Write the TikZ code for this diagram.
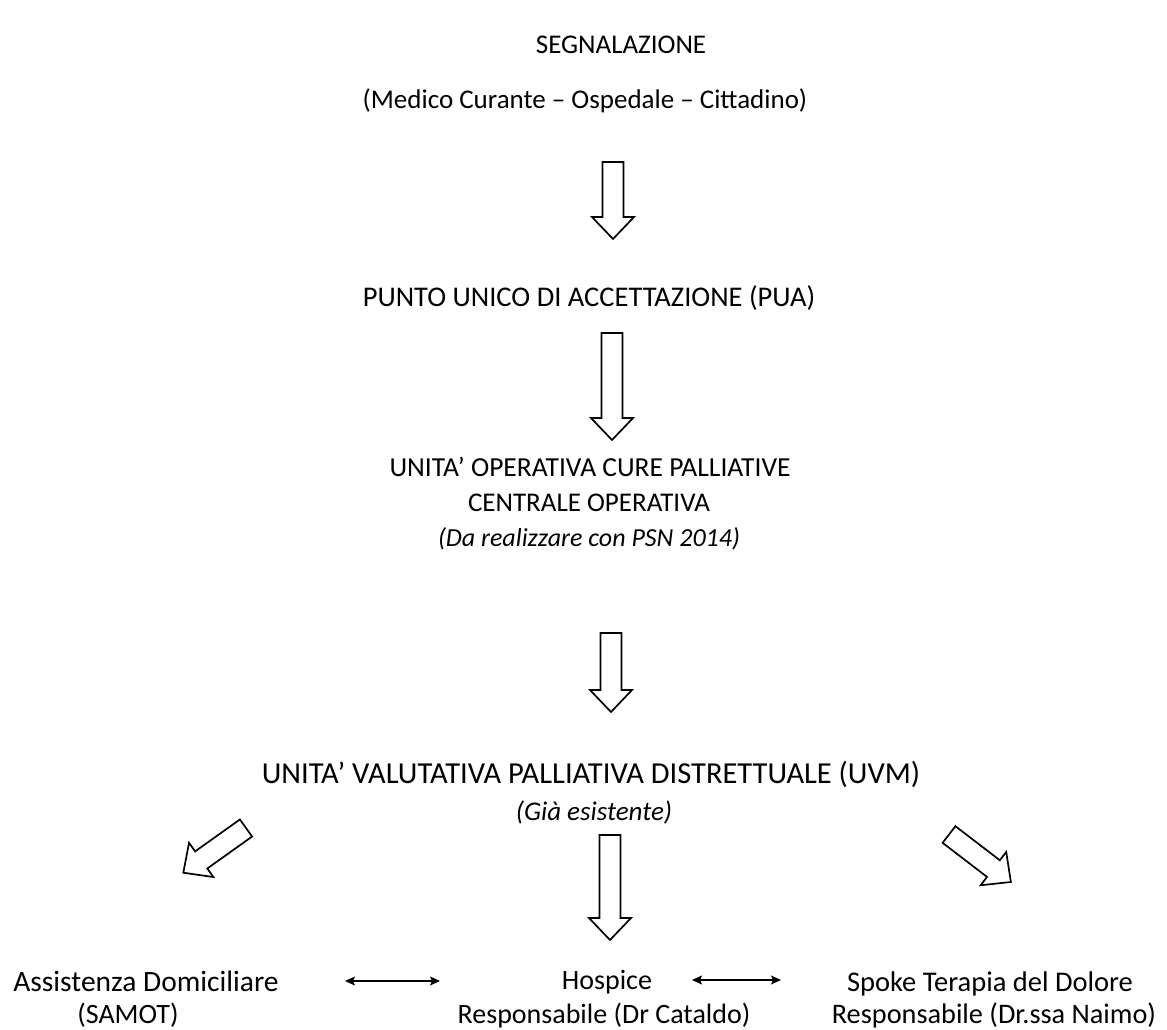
\documentclass[tikz,border=0pt]{standalone}
\usepackage{fontspec}
\setmainfont{Carlito}
\usetikzlibrary{arrows.meta}
\tikzset{
  lbl/.style={inner sep=0pt, text height=17.5pt, text depth=0pt, anchor=center, font=\fontsize{27}{32}\selectfont},
  lbli/.style={lbl, font=\fontsize{27}{32}\selectfont\itshape},
  fs/.style={font=\fontsize{#1}{32}\selectfont},
  blk/.style={draw=black, line width=1.7pt, line join=miter, fill=white},
  dbl/.style={line width=1.2pt, {Stealth[length=10pt,width=9pt,inset=2pt]}-{Stealth[length=10pt,width=9pt,inset=2pt]}}
}
% #1 tail coordinate, #2 canvas angle, #3 length
\newcommand\blockarr[3]{%
  \draw[blk, shift={(#1)}, rotate=#2] (0,-10.5) -- ({#3-22},-10.5) -- ({#3-22},-21) -- (#3,0) -- ({#3-22},21) -- ({#3-22},10.5) -- (0,10.5) -- cycle;}
\begin{document}
\begin{tikzpicture}[x=1pt,y=-1pt]
\useasboundingbox[fill=white] (0,0) rectangle (1167,1030);

\node[lbl] (seg) at (621,45) {SEGNALAZIONE};
\node[lbl] (med) at (585,100) {(Medico Curante – Ospedale – Cittadino)};
\node[lbl, fs=28.5] (pua) at (589,298) {PUNTO UNICO DI ACCETTAZIONE (PUA)};
\node[lbl, fs=27.5] (uop1) at (590,468) {UNITA’ OPERATIVA CURE PALLIATIVE};
\node[lbl] (uop2) at (589,503) {CENTRALE OPERATIVA};
\node[lbli, font=\fontsize{26}{32}\selectfont\itshape] (uop3) at (589,538) {(Da realizzare con PSN 2014)};
\node[lbl, fs=30.5] (uvm) at (591,775) {UNITA’ VALUTATIVA PALLIATIVA DISTRETTUALE (UVM)};
\node[lbli] (gia) at (594,812) {(Già esistente)};

\node[lbl, fs=29.5] (ad1) at (146,983) {Assistenza Domiciliare};
\node[lbl, fs=28] (ad2) at (128,1015) {(SAMOT)};
\node[lbl, fs=28] (ho1) at (607,981) {Hospice};
\node[lbl, fs=28] (ho2) at (604,1015) {Responsabile (Dr Cataldo)};
\node[lbl, fs=28.5] (sp1) at (990,983) {Spoke Terapia del Dolore};
\node[lbl, fs=28.3] (sp2) at (994,1015) {Responsabile (Dr.ssa Naimo)};

% block arrows (tails)
\coordinate (a1) at (613,162);
\coordinate (a2) at (612,333);
\coordinate (a3) at (611,633);
\coordinate (a4) at (610,835);
\coordinate (a5) at (246,828);
\coordinate (a6) at (949,834.5);
\blockarr{a1}{-90}{77}
\blockarr{a2}{-90}{107}
\blockarr{a3}{-90}{79}
\blockarr{a4}{-90}{105}
\blockarr{a5}{215.5}{77}
\blockarr{a6}{-37.5}{78}

% double arrows
\coordinate (d1l) at (345,981);
\coordinate (d1r) at (440,981);
\coordinate (d2l) at (692,980);
\coordinate (d2r) at (781,980);
\draw[dbl] (d1l) -- (d1r);
\draw[dbl] (d2l) -- (d2r);
\end{tikzpicture}
\end{document}
